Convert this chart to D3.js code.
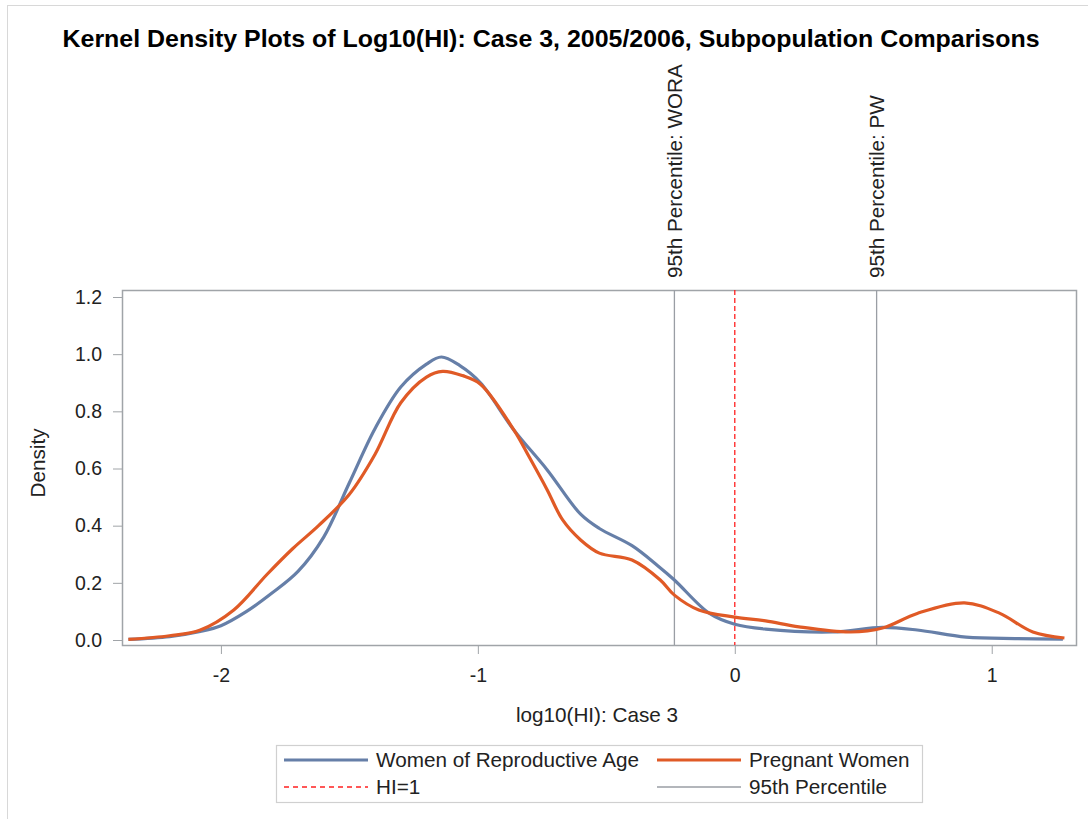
<!DOCTYPE html>
<html>
<head>
<meta charset="utf-8">
<script src="https://cdn.jsdelivr.net/npm/d3@7"></script>
<style>
  body { margin: 0; background: #fff; }
  svg text { font-family: Arial, "Liberation Sans", sans-serif; fill: #222; }
</style>
</head>
<body>
<div id="chart"></div>
<script>
// density curve for Women of Reproductive Age
var woraX = [-2.36, -2.2, -2.08, -2.0, -1.9, -1.8, -1.7, -1.6, -1.5, -1.4, -1.3, -1.2, -1.142, -1.07, -0.99, -0.86, -0.73, -0.60, -0.527, -0.40, -0.30, -0.235, -0.10, 0, 0.12, 0.38, 0.575, 0.71, 0.90, 1.10, 1.277];
var woraY = [0.002, 0.012, 0.03, 0.05, 0.10, 0.165, 0.24, 0.36, 0.55, 0.74, 0.885, 0.965, 0.99, 0.96, 0.90, 0.735, 0.595, 0.44, 0.39, 0.33, 0.26, 0.21, 0.094, 0.055, 0.038, 0.028, 0.044, 0.035, 0.01, 0.005, 0.003];

// density curve for Pregnant Women
var pwX = [-2.36, -2.2, -2.08, -1.95, -1.82, -1.72, -1.62, -1.5, -1.4, -1.3, -1.2, -1.137, -1.06, -0.99, -0.86, -0.80, -0.73, -0.67, -0.60, -0.527, -0.40, -0.29, -0.235, -0.14, 0, 0.12, 0.25, 0.45, 0.575, 0.71, 0.894, 1.03, 1.16, 1.283];
var pwY = [0.002, 0.015, 0.035, 0.105, 0.23, 0.32, 0.40, 0.51, 0.65, 0.83, 0.92, 0.94, 0.925, 0.895, 0.735, 0.64, 0.525, 0.42, 0.35, 0.304, 0.28, 0.21, 0.157, 0.105, 0.08, 0.067, 0.046, 0.028, 0.042, 0.093, 0.13, 0.094, 0.028, 0.007];

var xTicks = [-2, -1, 0, 1];
var yTicks = [0.0, 0.2, 0.4, 0.6, 0.8, 1.0, 1.2];
var refLines = [
    {"value": -0.235, "label": "95th Percentile: WORA"},
    {"value": 0.552, "label": "95th Percentile: PW"}
];
var hiLine = 0;

var width = 1088, height = 819;
var plot = {left: 122, right: 1076, top: 290, bottom: 645};
var fs = "20.7px";

var svg = d3.select("#chart").append("svg")
    .attr("width", width)
    .attr("height", height);

// outer border of the graph
svg.append("rect")
    .attr("x", 7.5).attr("y", 5.5)
    .attr("width", 1100).attr("height", 830)
    .style("fill", "none")
    .style("stroke", "#d8d8d8");

var x = d3.scaleLinear().domain([-2.385, 1.328]).range([plot.left, plot.right]);
var y = d3.scaleLinear().domain([0, 1.2]).range([640, 297]);

// title
svg.append("text")
    .attr("x", 551).attr("y", 47)
    .attr("text-anchor", "middle")
    .attr("textLength", 977)
    .attr("lengthAdjust", "spacingAndGlyphs")
    .style("font-size", "24px")
    .style("font-weight", "bold")
    .style("fill", "#000")
    .text("Kernel Density Plots of Log10(HI): Case 3, 2005/2006, Subpopulation Comparisons");

// axes
var xAxis = svg.append("g")
    .attr("transform", "translate(0," + plot.bottom + ")")
    .call(d3.axisBottom(x).tickValues(xTicks).tickSize(9).tickPadding(14).tickFormat(function(d) { return String(d); }));
var yAxis = svg.append("g")
    .attr("transform", "translate(" + plot.left + ",0)")
    .call(d3.axisLeft(y).tickValues(yTicks).tickSize(9).tickPadding(11).tickFormat(d3.format(".1f")));
[xAxis, yAxis].forEach(function(a) {
    a.select(".domain").remove();
    a.selectAll("line").style("stroke", "#a0a4a8");
    a.selectAll("text").style("font-size", "19.5px").style("font-family", "Arial, 'Liberation Sans', sans-serif").style("fill", "#222");
});

// plot frame
svg.append("rect")
    .attr("x", plot.left + 0.5).attr("y", plot.top + 0.5)
    .attr("width", plot.right - plot.left).attr("height", plot.bottom - plot.top)
    .style("fill", "none")
    .style("stroke", "#a0a4a8")
    .style("stroke-width", 1.5);

// axis labels
svg.append("text")
    .attr("x", 597).attr("y", 722)
    .attr("text-anchor", "middle")
    .style("font-size", fs)
    .text("log10(HI):  Case 3");
svg.append("text")
    .attr("transform", "translate(45,463) rotate(-90)")
    .attr("text-anchor", "middle")
    .style("font-size", fs)
    .text("Density");

// 95th percentile reference lines
svg.selectAll(".ref")
    .data(refLines)
    .enter()
    .append("line")
    .attr("x1", function(d) { return x(d.value); })
    .attr("x2", function(d) { return x(d.value); })
    .attr("y1", plot.top)
    .attr("y2", plot.bottom)
    .style("stroke", "#9a9ea4")
    .style("stroke-width", 1.3);
svg.selectAll(".reflabel")
    .data(refLines)
    .enter()
    .append("text")
    .attr("transform", function(d) { return "translate(" + (x(d.value) + 7.5) + ",278) rotate(-90)"; })
    .style("font-size", fs)
    .text(function(d) { return d.label; });

// HI=1 line
svg.append("line")
    .attr("x1", x(hiLine)).attr("x2", x(hiLine))
    .attr("y1", plot.top).attr("y2", plot.bottom)
    .style("stroke", "#ff2020")
    .style("stroke-width", 1.3)
    .style("stroke-dasharray", "5,3");

// density curves
var line = d3.line()
    .x(function(d) { return x(d[0]); })
    .y(function(d) { return y(d[1]); })
    .curve(d3.curveCatmullRom.alpha(0.5));

svg.append("path")
    .datum(d3.zip(woraX, woraY))
    .attr("d", line)
    .style("fill", "none")
    .style("stroke", "#667fa8")
    .style("stroke-width", 3.2);
svg.append("path")
    .datum(d3.zip(pwX, pwY))
    .attr("d", line)
    .style("fill", "none")
    .style("stroke", "#e05a26")
    .style("stroke-width", 3.2);

// legend
var legend = svg.append("g");
legend.append("rect")
    .attr("x", 276.5).attr("y", 745.5)
    .attr("width", 646).attr("height", 57)
    .style("fill", "none")
    .style("stroke", "#d0d0d0")
    .style("stroke-width", 1.2);
var items = [
    {"label": "Women of Reproductive Age", "color": "#667fa8", "w": 3.2, "dash": null, "x": 284, "y": 760},
    {"label": "Pregnant Women", "color": "#e05a26", "w": 3.2, "dash": null, "x": 657, "y": 760},
    {"label": "HI=1", "color": "#ff2020", "w": 1.3, "dash": "5,4", "x": 284, "y": 787},
    {"label": "95th Percentile", "color": "#9a9ea4", "w": 1.3, "dash": null, "x": 657, "y": 787}
];
items.forEach(function(it) {
    legend.append("line")
        .attr("x1", it.x).attr("x2", it.x + 84)
        .attr("y1", it.y).attr("y2", it.y)
        .style("stroke", it.color)
        .style("stroke-width", it.w)
        .style("stroke-dasharray", it.dash);
    legend.append("text")
        .attr("x", it.x + 92).attr("y", it.y + 7)
        .style("font-size", fs)
        .text(it.label);
});
</script>
</body>
</html>
